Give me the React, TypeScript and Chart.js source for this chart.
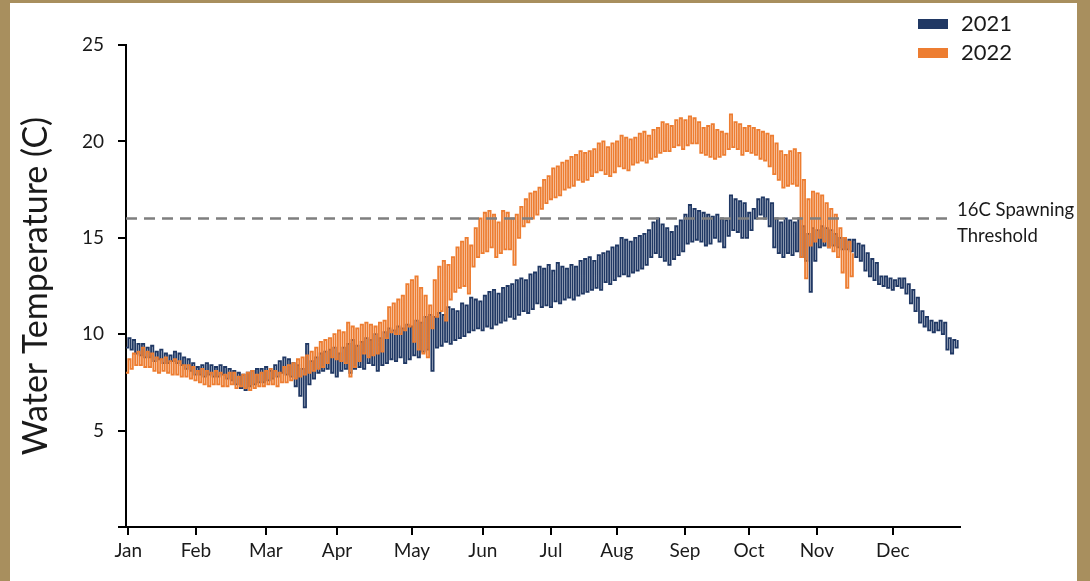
import React, { useEffect, useRef } from 'react';
import { Chart, registerables } from 'chart.js';

Chart.register(...registerables);

// ---------- data ----------
const MONTH_LABELS = ['Jan', 'Feb', 'Mar', 'Apr', 'May', 'Jun', 'Jul', 'Aug', 'Sep', 'Oct', 'Nov', 'Dec'];
// day-of-year positions of the month ticks as drawn on the reference axis
const MONTH_TICK_DAYS = [1, 30.7, 61.4, 92.6, 125.5, 156.6, 186.5, 215.4, 245.3, 273.4, 303.2, 336.5];

const SERIES_LABELS = ['2021', '2022'];
const SAMPLE_STEP_DAYS = 2; // one high/low pair every 2 days, starting Jan 1

const HIGH_2021 = [
  9.8, 9.7, 9.5, 9.5, 9.3, 9.4, 9.1, 9.2, 9.0, 8.9, 9.1, 9.0, 8.8, 8.7, 8.5, 8.3, 8.4, 8.5, 8.4, 8.3,
  8.4, 8.3, 8.2, 8.1, 8.0, 7.9, 8.0, 8.1, 8.2, 8.2, 8.3, 8.1, 8.4, 8.6, 8.8, 8.7, 8.5, 8.4, 8.2, 9.5,
  8.6, 8.8, 9.0, 9.1, 9.2, 9.3, 9.0, 9.3, 9.5, 9.7, 9.4, 9.6, 9.8, 9.7, 10.0, 9.8, 10.1, 10.3, 10.2, 10.4,
  10.3, 10.5, 10.4, 10.7, 10.6, 10.9, 11.0, 10.9, 11.1, 11.0, 11.4, 11.3, 11.2, 11.6, 11.5, 11.9, 11.8, 11.7, 12.0, 12.2,
  12.3, 12.1, 12.4, 12.5, 12.6, 12.8, 12.9, 12.8, 13.1, 13.2, 13.5, 13.4, 13.6, 13.3, 13.7, 13.5, 13.4, 13.6, 13.5, 13.8,
  13.9, 14.0, 13.8, 14.1, 14.2, 14.3, 14.5, 14.6, 15.0, 14.9, 14.8, 15.0, 15.1, 15.2, 15.4, 15.8, 16.0, 15.7, 15.5, 15.3,
  15.6, 15.9, 16.2, 16.7, 16.5, 16.4, 16.3, 16.2, 16.1, 16.2, 16.0, 15.9, 17.2, 17.0, 16.9, 16.8, 16.3, 16.5, 17.0, 17.1,
  17.0, 16.8, 16.0, 15.8, 16.0, 15.9, 15.8, 16.0, 15.6, 15.2, 15.5, 15.4, 15.6, 15.5, 15.4, 15.2, 15.0, 15.0, 14.9, 14.9,
  14.7, 14.6, 14.2, 13.9, 13.7, 13.0, 13.0, 12.9, 12.8, 12.9, 12.9, 12.6, 12.3, 11.9, 11.2, 10.9, 10.7, 10.6, 10.7, 10.6,
  9.8, 9.7, 9.7,
];
const LOW_2021 = [
  9.3, 9.2, 9.0, 8.9, 8.8, 8.8, 8.6, 8.7, 8.5, 8.5, 8.6, 8.5, 8.4, 8.2, 8.1, 7.9, 7.9, 7.8, 7.9, 7.8,
  7.8, 7.9, 7.7, 7.6, 7.4, 7.2, 7.1, 7.3, 7.4, 7.5, 7.5, 7.6, 7.7, 7.8, 8.0, 7.9, 7.8, 7.3, 6.8, 6.2,
  7.4, 7.7, 8.0, 8.1, 8.2, 8.0, 7.8, 8.1, 8.2, 8.0, 8.2, 8.3, 8.2, 8.5, 8.4, 8.1, 8.4, 8.5, 8.7, 8.6,
  8.8, 8.5, 8.7, 8.9, 8.8, 9.1, 9.2, 8.1, 9.3, 9.4, 9.6, 9.5, 9.7, 9.8, 9.9, 10.1, 10.2, 10.3, 10.2, 10.4,
  10.3, 10.5, 10.6, 10.7, 10.9, 10.8, 11.0, 11.2, 11.1, 11.3, 11.6, 11.4, 11.5, 11.4, 11.7, 11.6, 11.8, 11.9, 11.8, 12.0,
  12.1, 12.2, 12.3, 12.4, 12.3, 12.7, 12.6, 12.8, 13.0, 13.1, 13.0, 13.2, 13.3, 13.4, 13.6, 14.0, 14.2, 14.0, 13.8, 13.6,
  13.9, 14.1, 14.3, 14.7, 14.8, 14.9, 14.8, 14.6, 14.7, 15.0, 14.8, 14.5, 15.1, 15.4, 15.3, 15.0, 15.0, 15.4, 16.0, 16.2,
  16.0, 15.6, 14.5, 14.2, 14.0, 14.2, 14.1, 14.3, 14.0, 13.8, 12.2, 13.8, 14.5, 14.6, 14.5, 14.6, 14.5, 14.4, 14.4, 14.3,
  14.0, 13.8, 13.3, 13.0, 12.8, 12.6, 12.5, 12.4, 12.3, 12.5, 12.4, 12.1, 11.6, 11.2, 10.6, 10.4, 10.2, 10.1, 10.2, 10.0,
  9.2, 9.0, 9.3,
];

const HIGH_2022 = [
  8.7, 9.0, 9.1, 9.3, 9.1, 9.0, 8.8, 8.7, 8.8, 8.6, 8.7, 8.6, 8.4, 8.4, 8.3, 8.1, 8.2, 8.1, 8.0, 8.1,
  8.0, 7.9, 8.0, 8.0, 7.8, 7.9, 8.0, 8.1, 7.9, 8.0, 8.1, 8.2, 8.1, 8.0, 8.3, 8.4, 8.5, 8.7, 8.8, 8.9,
  9.1, 9.3, 9.6, 9.7, 9.8, 10.0, 10.2, 10.1, 10.6, 10.4, 10.3, 10.5, 10.6, 10.5, 10.4, 10.6, 10.7, 11.4, 11.6, 11.8,
  12.0, 12.6, 12.8, 13.0, 12.4, 12.0, 11.5, 12.8, 13.5, 13.8, 13.6, 14.0, 14.5, 14.8, 15.0, 14.6, 15.5, 16.0, 16.3, 16.4,
  16.2, 15.8, 16.4, 16.3, 16.0, 16.2, 16.6, 17.0, 17.3, 17.4, 17.6, 18.0, 18.2, 18.6, 18.7, 18.9, 19.0, 19.2, 19.3, 19.5,
  19.4, 19.5, 19.6, 19.9, 20.0, 19.7, 19.9, 20.0, 20.3, 20.2, 20.1, 20.2, 20.4, 20.5, 20.3, 20.6, 20.7, 21.0, 20.9, 20.8,
  21.1, 21.2, 21.1, 21.3, 21.2, 21.0, 20.7, 20.8, 20.9, 20.6, 20.5, 20.4, 21.4, 21.0, 20.9, 20.7, 20.8, 20.7, 20.6, 20.5,
  20.4, 20.3, 19.9, 19.5, 19.3, 19.5, 19.6, 19.4, 18.0, 17.0, 17.4, 17.3, 17.2, 16.8, 16.5, 16.2, 15.5, 15.0, 14.8, 14.2,
];
const LOW_2022 = [
  8.0, 8.2, 8.4, 8.4, 8.3, 8.3, 8.1, 8.0, 8.1, 8.0, 7.9, 7.9, 7.8, 7.8, 7.7, 7.6, 7.5, 7.4, 7.3, 7.4,
  7.4, 7.3, 7.3, 7.4, 7.2, 7.3, 7.2, 7.1, 7.2, 7.3, 7.3, 7.4, 7.4, 7.3, 7.5, 7.5, 7.6, 7.7, 7.8, 7.9,
  8.0, 8.1, 8.2, 8.3, 8.5, 8.8, 8.7, 8.6, 8.5, 7.8, 8.3, 8.6, 9.0, 8.8, 8.9, 9.0, 9.1, 9.8, 10.1, 10.0,
  10.0, 10.2, 10.4, 9.6, 9.2, 9.0, 8.8, 10.3, 10.9, 11.2, 10.7, 11.8, 12.2, 12.4, 12.5, 12.1, 13.5, 14.0, 14.2, 14.3,
  14.5, 14.0, 14.2, 14.4, 14.4, 13.6, 15.0, 15.6, 15.8, 16.0, 16.2, 16.5, 16.8, 17.0, 17.1, 17.2, 17.5, 17.6, 17.7, 18.0,
  17.9, 18.0, 18.2, 18.4, 18.5, 18.3, 18.2, 18.4, 18.7, 18.6, 18.5, 18.8, 18.9, 19.0, 18.9, 19.1, 19.2, 19.4, 19.5, 19.5,
  19.7, 19.8, 19.6, 19.8, 19.9, 19.9, 19.4, 19.3, 19.2, 19.1, 19.2, 19.3, 19.6, 19.7, 19.6, 19.3, 19.5, 19.4, 19.3, 19.1,
  19.0, 18.7, 18.3, 18.0, 17.6, 17.7, 17.8, 17.7, 14.0, 12.9, 14.6, 14.8, 15.0, 14.8, 14.5, 14.3, 14.0, 13.2, 12.4, 13.0,
];

const THRESHOLD_VALUE = 16;
const THRESHOLD_SPAN_DAYS = [0, 362];
const THRESHOLD_LABEL = ['16C Spawning', 'Threshold'];

const Y_TICKS = { min: 0, max: 25, step: 5 };
const X_RANGE_DAYS = { min: 0, max: 366 };

// ---------- styles ----------
const NAVY = '#203864';
const ORANGE = '#ED7D31';
const TEXT = '#1a1a1a';
const FONT = 'Lato, "Open Sans", sans-serif';

function toStepPoints(high: number[], low: number[]) {
  const pts: { x: number; y: number }[] = [];
  high.forEach((h, i) => {
    const d = i * SAMPLE_STEP_DAYS;
    pts.push({ x: d, y: low[i] });
    pts.push({ x: d + SAMPLE_STEP_DAYS / 2, y: h });
  });
  return pts;
}

const annotationPlugin = {
  id: 'customAnnotations',
  afterDraw(chart: any) {
    const { ctx, chartArea, scales } = chart;
    ctx.save();
    // legend
    const items = [
      { label: SERIES_LABELS[0], color: NAVY },
      { label: SERIES_LABELS[1], color: ORANGE },
    ];
    items.forEach((it, i) => {
      const cy = 21 + i * 29;
      ctx.fillStyle = it.color;
      ctx.fillRect(chartArea.right - 42, cy - 5, 30, 10);
      ctx.fillStyle = TEXT;
      ctx.font = `22px ${FONT}`;
      ctx.textBaseline = 'middle';
      ctx.textAlign = 'left';
      ctx.fillText(it.label, chartArea.right + 1, cy);
    });
    // threshold label
    const ty = scales.y.getPixelForValue(THRESHOLD_VALUE);
    ctx.font = `18.5px ${FONT}`;
    ctx.fillStyle = TEXT;
    ctx.textBaseline = 'middle';
    ctx.fillText(THRESHOLD_LABEL[0], chartArea.right - 3, ty - 8);
    ctx.fillText(THRESHOLD_LABEL[1], chartArea.right - 3, ty + 18);
    ctx.restore();
  },
};

export default function App() {
  const canvasRef = useRef<HTMLCanvasElement | null>(null);

  useEffect(() => {
    document.body.style.margin = '0';
    const canvas = canvasRef.current;
    if (!canvas) return;
    const axisCommon = {
      border: { display: true, color: '#000', width: 2 },
      grid: { display: true, drawOnChartArea: false, drawTicks: true, tickLength: 8, color: '#000', lineWidth: 2 },
    };
    const chart = new Chart(canvas, {
      type: 'line',
      data: {
        datasets: [
          {
            label: 'threshold',
            data: THRESHOLD_SPAN_DAYS.map((d) => ({ x: d, y: THRESHOLD_VALUE })),
            borderColor: '#7f7f7f',
            borderWidth: 2.5,
            borderDash: [11, 7],
            pointRadius: 0,
            order: 0,
          },
          {
            label: SERIES_LABELS[1],
            data: toStepPoints(HIGH_2022, LOW_2022),
            borderColor: ORANGE,
            borderWidth: 1.8,
            pointRadius: 0,
            stepped: true,
            order: 1,
          },
          {
            label: SERIES_LABELS[0],
            data: toStepPoints(HIGH_2021, LOW_2021),
            borderColor: NAVY,
            borderWidth: 1.8,
            pointRadius: 0,
            stepped: true,
            order: 2,
          },
        ],
      },
      options: {
        animation: false,
        responsive: false,
        maintainAspectRatio: false,
        layout: { padding: { top: 42, right: 117, left: 0, bottom: 0 } },
        plugins: { legend: { display: false }, tooltip: { enabled: false } },
        scales: {
          x: {
            type: 'linear',
            min: X_RANGE_DAYS.min,
            max: X_RANGE_DAYS.max,
            ...axisCommon,
            afterBuildTicks: (scale: any) => {
              scale.ticks = MONTH_TICK_DAYS.map((value) => ({ value }));
            },
            afterFit: (scale: any) => {
              scale.height = 54;
            },
            ticks: {
              autoSkip: false,
              maxRotation: 0,
              padding: 4,
              color: TEXT,
              font: { family: FONT, size: 19 },
              callback: (_v: any, i: number) => MONTH_LABELS[i],
            },
          },
          y: {
            type: 'linear',
            min: Y_TICKS.min,
            max: Y_TICKS.max,
            ...axisCommon,
            afterFit: (scale: any) => {
              scale.width = 116;
            },
            ticks: {
              stepSize: Y_TICKS.step,
              padding: 14,
              color: TEXT,
              font: { family: FONT, size: 19 },
              callback: (v: any) => (v === 0 ? '' : String(v)),
            },
            title: {
              display: true,
              text: 'Water Temperature (C)',
              color: TEXT,
              font: { family: FONT, size: 34 },
              padding: { top: 6, bottom: 0 },
            },
          },
        },
      },
      plugins: [annotationPlugin],
    } as any);
    return () => chart.destroy();
  }, []);

  return (
    <div style={{ position: 'fixed', left: 0, top: 0, width: 1090, height: 581, background: '#A88F5E', overflow: 'hidden' }}>
      <div style={{ position: 'absolute', left: 10, top: 3, width: 1067, height: 578, background: '#fff' }}>
        <canvas ref={canvasRef} width={1067} height={578} style={{ display: 'block', width: 1067, height: 578 }} />
      </div>
    </div>
  );
}
